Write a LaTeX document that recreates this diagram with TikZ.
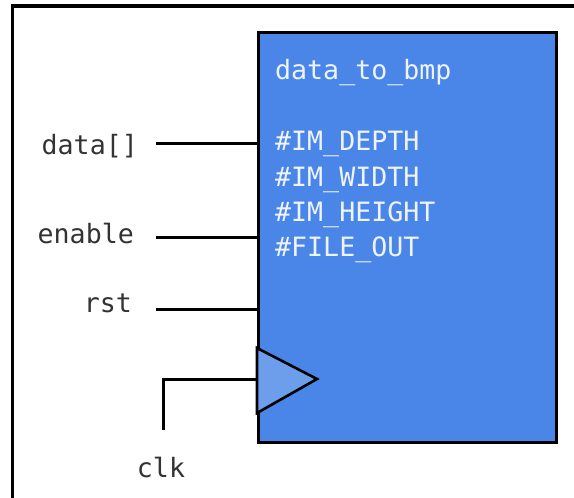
\documentclass[tikz,border=0pt]{standalone}
\usepackage{fontspec}
\setmonofont{DejaVu Sans Mono}
\definecolor{boxblue}{HTML}{4A86E8}
\definecolor{clkblue}{HTML}{6D9EEB}
\definecolor{boxtext}{HTML}{EEF3FC}
\definecolor{labtext}{HTML}{333333}
\begin{document}
\begin{tikzpicture}[x=1pt,y=-1pt,
  lbl/.style={font=\ttfamily\fontsize{26.6}{30}\selectfont, text=labtext, anchor=east, inner sep=0pt},
  intext/.style={font=\ttfamily\fontsize{26.6}{30}\selectfont, text=boxtext, anchor=west, inner sep=0pt},
  wire/.style={draw=black, line width=3pt}]
\useasboundingbox (0,0) rectangle (574,498);
\fill[white] (0,0) rectangle (574,498);
% outer frame
\draw[black, line width=3.5pt] (12.5,500) -- (12.5,6) -- (576,6);
% shadow and box
\fill[black!45] (259.5,33.5) rectangle (557.5,443.5);
\node[draw=black, line width=2.6pt, fill=boxblue, minimum width=298pt, minimum height=410pt, anchor=north west, inner sep=0pt] (blk) at (257,31) {};
% clock triangle
\draw[fill=clkblue, line width=2.6pt, line join=miter] (257,348) -- (317,379) -- (257,413) -- cycle;
% text inside
\node[intext] (title) at (275,73) {data\_to\_bmp};
\node[intext] (p1) at (275,144) {\#IM\_DEPTH};
\node[intext] (p2) at (275,180) {\#IM\_WIDTH};
\node[intext] (p3) at (275,215) {\#IM\_HEIGHT};
\node[intext] (p4) at (275,250) {\#FILE\_OUT};
% inputs
\node[lbl] (ldata) at (138,146) {data[]};
\node[lbl] (lenable) at (134,234) {enable};
\node[lbl] (lrst) at (132,303) {rst};
\node[lbl, anchor=center] (lclk) at (161,468) {clk};
\coordinate (sdata) at (156,143);
\coordinate (senable) at (156,237);
\coordinate (srst) at (156,309);
\coordinate (sclk) at (163,430);
\draw[wire] (sdata) -- (sdata -| blk.west);
\draw[wire] (senable) -- (senable -| blk.west);
\draw[wire] (srst) -- (srst -| blk.west);
\draw[wire] (sclk) |- (257,379);
\end{tikzpicture}
\end{document}
